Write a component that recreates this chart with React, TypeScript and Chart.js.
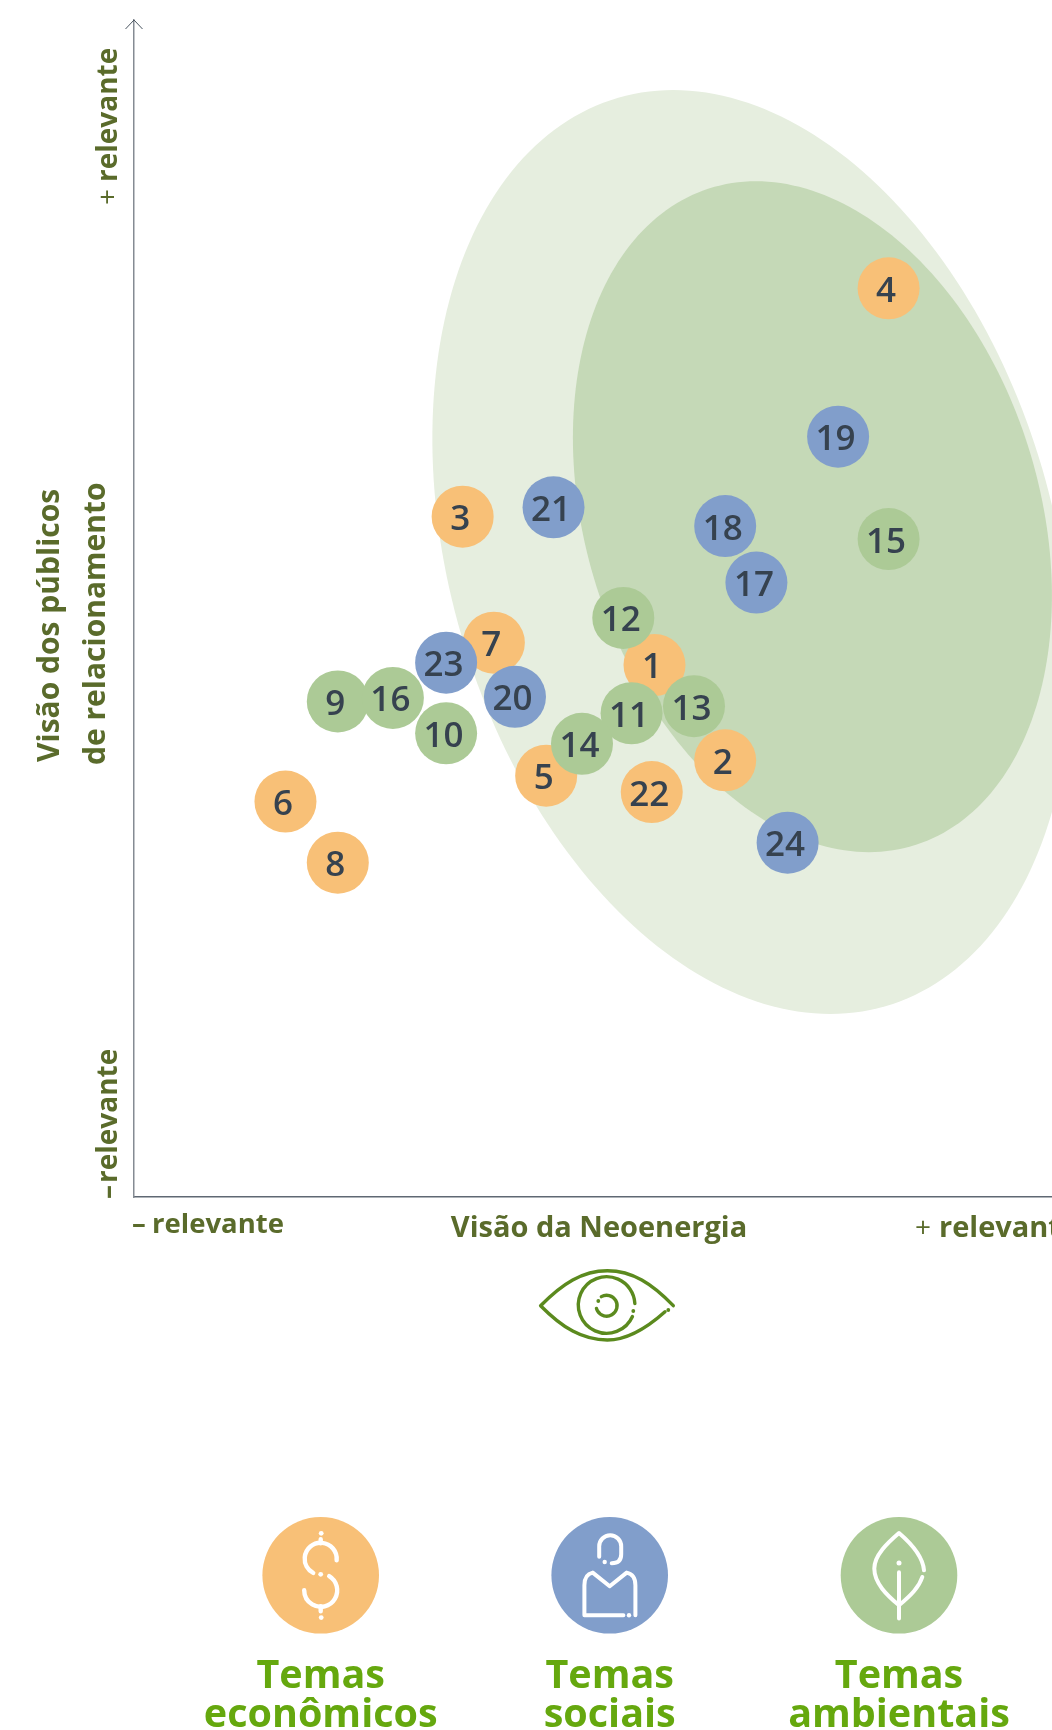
import React, { useEffect, useRef } from "react";
import { Chart, registerables } from "chart.js";

Chart.register(...registerables);

// Values read on a 0–100 relevance scale for both axes
const economicIds = [1, 2, 3, 4, 5, 6, 7, 8, 22];
const economicX = [56.7, 64.4, 35.8, 82.2, 44.9, 16.5, 39.2, 22.2, 56.4];
const economicY = [45.2, 37.1, 57.8, 77.2, 35.8, 33.6, 47.1, 28.4, 34.4];

const environmentalIds = [9, 10, 11, 12, 13, 14, 15, 16];
const environmentalX = [22.2, 34.0, 54.2, 53.3, 61.0, 48.8, 82.2, 28.2];
const environmentalY = [42.1, 39.4, 41.1, 49.2, 41.7, 38.5, 55.9, 42.4];

const socialIds = [17, 18, 19, 20, 21, 23, 24];
const socialX = [67.8, 64.4, 76.7, 41.5, 45.7, 34.0, 71.2];
const socialY = [52.2, 57.0, 64.6, 42.5, 58.6, 45.4, 30.1];

// Materiality zones: centre x, centre y, half width, half height, shear of the top point
const outerZone = [67.3, 54.8, 34.8, 39.25, -8.55];
const innerZone = [73.9, 57.8, 26.09, 28.5, -6.15];

const legendLines = [
  ["Temas", "econômicos"],
  ["Temas", "sociais"],
  ["Temas", "ambientais"],
];

const ORANGE = "#F8C077";
const BLUE = "#819ECB";
const GREEN = "#ACCA96";
const AXIS_TEXT = "#5A6B2B";
const FONT = '"Open Sans", "Noto Sans", sans-serif';

function toPoints(xs: number[], ys: number[]) {
  return xs.map((x, i) => ({ x, y: ys[i] }));
}

function stroke(ctx: CanvasRenderingContext2D, color: string, width: number) {
  ctx.strokeStyle = color;
  ctx.lineWidth = width;
  ctx.lineCap = "round";
  ctx.lineJoin = "round";
  ctx.fillStyle = color;
}

function dot(ctx: CanvasRenderingContext2D, x: number, y: number, r: number) {
  ctx.beginPath();
  ctx.arc(x, y, r, 0, Math.PI * 2);
  ctx.fill();
}

const deg = (d: number) => (d * Math.PI) / 180;

function drawDollar(ctx: CanvasRenderingContext2D) {
  stroke(ctx, "#fff", 4.4);
  ctx.beginPath();
  ctx.arc(0, -16.5, 16, deg(5), deg(118), true);
  ctx.stroke();
  ctx.beginPath();
  ctx.arc(0, 15, 16.5, deg(-59), deg(180));
  ctx.stroke();
  ctx.beginPath();
  ctx.moveTo(0, -36);
  ctx.lineTo(0, -32);
  ctx.moveTo(0, 31);
  ctx.lineTo(0, 36);
  ctx.stroke();
  dot(ctx, 0.5, -42, 2.4);
  dot(ctx, 0, -1, 2.4);
  dot(ctx, 0.5, 42.3, 2.4);
}

function drawPerson(ctx: CanvasRenderingContext2D) {
  stroke(ctx, "#fff", 4);
  ctx.beginPath();
  ctx.moveTo(-10.5, -18.5);
  ctx.lineTo(-10.5, -29);
  ctx.arc(0.5, -29, 11, Math.PI, 0);
  ctx.lineTo(11.5, -21);
  ctx.quadraticCurveTo(11.5, -12, 2, -12);
  ctx.stroke();
  dot(ctx, -5, -13.3, 2.2);
  ctx.beginPath();
  ctx.moveTo(13.7, 40);
  ctx.lineTo(-25.3, 40);
  ctx.lineTo(-25.3, 10);
  ctx.quadraticCurveTo(-25.3, -1, -17, -2.7);
  ctx.lineTo(0, 11);
  ctx.lineTo(17, -2.7);
  ctx.quadraticCurveTo(25.7, -1, 25.7, 10);
  ctx.lineTo(25.7, 40);
  ctx.stroke();
  dot(ctx, 19.3, 40, 2.2);
}

function drawLeaf(ctx: CanvasRenderingContext2D) {
  stroke(ctx, "#fff", 4);
  ctx.beginPath();
  ctx.moveTo(25, -5);
  ctx.bezierCurveTo(24, -18, 12, -32, 0, -42.3);
  ctx.bezierCurveTo(-12, -32, -24.7, -20, -24.7, -6.7);
  ctx.bezierCurveTo(-24.7, 8, -12, 20, 0, 30);
  ctx.bezierCurveTo(12, 20, 20, 12, 23.3, 1.7);
  ctx.moveTo(0, 43.3);
  ctx.lineTo(0, -3);
  ctx.stroke();
  dot(ctx, 0, -12.3, 2.5);
}

function drawEye(ctx: CanvasRenderingContext2D) {
  const c = "#5B8A1E";
  stroke(ctx, c, 3.4);
  ctx.beginPath();
  ctx.moveTo(66, 0);
  ctx.bezierCurveTo(45, -22, 25, -35, 0, -35);
  ctx.bezierCurveTo(-25, -35, -45, -22, -66.7, 0);
  ctx.bezierCurveTo(-45, 22, -25, 34.3, 0, 34.3);
  ctx.bezierCurveTo(22, 34.3, 42, 20, 57.7, 6);
  ctx.stroke();
  dot(ctx, 61, 4.3, 1.9);
  ctx.beginPath();
  ctx.arc(-0.7, -0.7, 28.3, deg(24), deg(357));
  ctx.stroke();
  dot(ctx, 26, 5.3, 1.9);
  ctx.beginPath();
  ctx.arc(-0.7, 0, 10.5, deg(-120), deg(165));
  ctx.stroke();
  dot(ctx, -9, -4.7, 1.9);
}

function text(
  ctx: CanvasRenderingContext2D,
  s: string,
  x: number,
  y: number,
  font: string,
  color: string,
  align: CanvasTextAlign = "left",
  rotate = 0
) {
  ctx.save();
  ctx.translate(x, y);
  if (rotate) ctx.rotate(rotate);
  ctx.font = font;
  ctx.fillStyle = color;
  ctx.textAlign = align;
  ctx.textBaseline = "alphabetic";
  ctx.fillText(s, 0, 0);
  ctx.restore();
}

const zonesPlugin = {
  id: "zones",
  beforeDatasetsDraw(chart: any) {
    const { ctx, scales } = chart;
    const zones: [number[], string][] = [
      [outerZone, "#E6EEDF"],
      [innerZone, "#C5D9B7"],
    ];
    for (const [z, color] of zones) {
      const [cx, cy, hw, hh, shear] = z;
      ctx.save();
      ctx.beginPath();
      const side = Math.sqrt(Math.max(hw * hw - shear * shear, 0));
      for (let i = 0; i <= 240; i++) {
        const t = (i / 240) * Math.PI * 2;
        const vx = cx + shear * Math.cos(t) + side * Math.sin(t);
        const vy = cy + hh * Math.cos(t);
        const px = scales.x.getPixelForValue(vx);
        const py = scales.y.getPixelForValue(vy);
        if (i === 0) ctx.moveTo(px, py);
        else ctx.lineTo(px, py);
      }
      ctx.closePath();
      ctx.fillStyle = color;
      ctx.fill();
      ctx.restore();
    }
  },
};

const numbersPlugin = {
  id: "numbers",
  afterDatasetsDraw(chart: any) {
    const { ctx } = chart;
    chart.data.datasets.forEach((ds: any, di: number) => {
      const meta = chart.getDatasetMeta(di);
      meta.data.forEach((el: any, i: number) => {
        text(ctx, String(ds.ids[i]), el.x - 2.5, el.y + 13.5, `650 35px ${FONT}`, "#36424F", "center");
      });
    });
  },
};

const decorPlugin = {
  id: "decor",
  afterDraw(chart: any) {
    const { ctx, chartArea } = chart;
    const { left, top } = chartArea;
    // arrow head
    ctx.save();
    ctx.strokeStyle = "#4A5560";
    ctx.lineWidth = 1;
    ctx.beginPath();
    ctx.moveTo(left - 8.5, top + 9);
    ctx.lineTo(left, top);
    ctx.lineTo(left + 8.5, top + 9);
    ctx.stroke();
    ctx.restore();

    const bold = `700 29px ${FONT}`;
    const side = `700 28px ${FONT}`;
    const thin = `400 28px ${FONT}`;
    const wide = `700 30px ${FONT}`;
    const low = `700 27.5px ${FONT}`;
    const up = -Math.PI / 2;
    // y axis
    text(ctx, "+", 117, 205, thin, AXIS_TEXT, "left", up);
    text(ctx, "relevante", 117, 182, side, AXIS_TEXT, "left", up);
    text(ctx, "–", 117, 1199, side, AXIS_TEXT, "left", up);
    text(ctx, "relevante", 117, 1183, side, AXIS_TEXT, "left", up);
    text(ctx, "Visão dos públicos", 59, 762, wide, AXIS_TEXT, "left", up);
    text(ctx, "de relacionamento", 105, 765, wide, AXIS_TEXT, "left", up);
    // x axis
    text(ctx, "–", 132, 1233, low, AXIS_TEXT);
    text(ctx, "relevante", 152, 1233, low, AXIS_TEXT);
    text(ctx, "Visão da Neoenergia", 599, 1237, bold, AXIS_TEXT, "center");
    text(ctx, "+", 915, 1237, thin, AXIS_TEXT);
    text(ctx, "relevante", 939, 1237, bold, AXIS_TEXT);

    ctx.save();
    ctx.translate(607.3, 1305.7);
    drawEye(ctx);
    ctx.restore();

    // legend
    const xs = [320.7, 609.7, 899];
    const colors = [ORANGE, BLUE, GREEN];
    const icons = [drawDollar, drawPerson, drawLeaf];
    xs.forEach((x, i) => {
      ctx.save();
      ctx.translate(x, 1575.3);
      ctx.fillStyle = colors[i];
      ctx.beginPath();
      ctx.arc(0, 0, 58.3, 0, Math.PI * 2);
      ctx.fill();
      icons[i](ctx);
      ctx.restore();
      const lines = legendLines[i];
      text(ctx, lines[0], x, 1688, `700 39.5px ${FONT}`, "#65A80E", "center");
      text(ctx, lines[1], x, 1727, `700 39.5px ${FONT}`, "#65A80E", "center");
    });
  },
};

export default function App() {
  const ref = useRef<HTMLCanvasElement>(null);
  useEffect(() => {
    const ds = (label: string, ids: number[], xs: number[], ys: number[], color: string, order: number) => ({
      label,
      ids,
      data: toPoints(xs, ys),
      backgroundColor: color,
      borderWidth: 0,
      pointRadius: 31,
      pointHoverRadius: 31,
      order,
      clip: false,
    });
    const chart = new Chart(ref.current!, {
      type: "scatter",
      data: {
        datasets: [
          ds("Temas econômicos", economicIds, economicX, economicY, ORANGE, 3),
          ds("Temas ambientais", environmentalIds, environmentalX, environmentalY, GREEN, 2),
          ds("Temas sociais", socialIds, socialX, socialY, BLUE, 1),
        ] as any,
      },
      options: {
        responsive: false,
        animation: false,
        layout: { autoPadding: false, padding: { left: 134, right: 0, top: 20, bottom: 533 } },
        plugins: { legend: { display: false }, tooltip: { enabled: false } },
        scales: {
          x: {
            type: "linear",
            min: 0,
            max: 100,
            ticks: { display: false },
            grid: { display: false, drawTicks: false },
            border: { display: true, color: "#5F6873", width: 1.5 },
          },
          y: {
            type: "linear",
            min: 0,
            max: 100,
            ticks: { display: false },
            grid: { display: false, drawTicks: false },
            border: { display: true, color: "#858B93", width: 1.5 },
          },
        },
      },
      plugins: [zonesPlugin, numbersPlugin, decorPlugin],
    });
    return () => chart.destroy();
  }, []);
  return (
    <div style={{ position: "absolute", left: 0, top: 0, width: 1052, height: 1730, background: "#fff" }}>
      <canvas ref={ref} width={1052} height={1730} style={{ display: "block" }} />
    </div>
  );
}
